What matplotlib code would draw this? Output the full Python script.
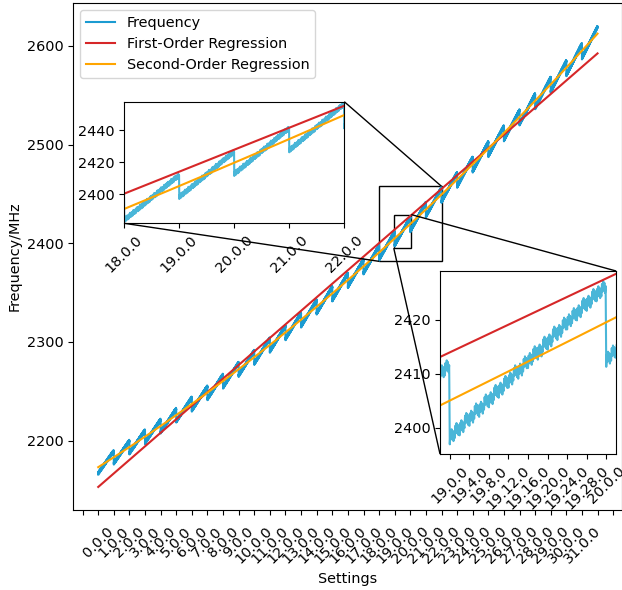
import numpy as np
import matplotlib
matplotlib.use("Agg")
from matplotlib import pyplot as plt
from matplotlib.ticker import FixedLocator, FuncFormatter
from mpl_toolkits.axes_grid1.inset_locator import mark_inset

plt.rcParams['font.size'] = 10.4

# frequency at the start of every first-level sweep (setting a.0.0), MHz
seg_start = [2165.6, 2175.7, 2186.0, 2196.5, 2207.2, 2218.3, 2229.4, 2241.0,
             2252.7, 2264.6, 2276.8, 2289.1, 2301.8, 2314.6, 2327.8, 2341.1,
             2354.7, 2368.5, 2382.5, 2396.9, 2411.3, 2426.1, 2441.0, 2456.3,
             2471.7, 2487.4, 2503.4, 2519.5, 2535.9, 2552.5, 2569.4, 2586.4]
# rise over the second-level sweep (a.0.x -> a.31.x), MHz
seg_rise = [22.0, 22.3, 22.6, 22.9, 23.2, 23.5, 23.7, 24.0,
            24.3, 24.6, 24.9, 25.2, 25.5, 25.8, 26.1, 26.4,
            26.6, 26.9, 27.2, 27.5, 27.8, 28.1, 28.4, 28.7,
            29.0, 29.3, 29.5, 29.8, 30.1, 30.4, 30.7, 31.0]
# shape of the second-level sweep read from the 19.x.x zoom, MHz
b_rise = [0.0, 1.1, 1.6, 2.9, 3.3, 4.6, 4.9, 6.2, 6.6, 7.9, 8.3, 9.5,
          10.1, 11.4, 11.7, 13.0, 13.6, 14.8, 15.1, 16.5, 16.9, 18.3,
          18.6, 19.9, 20.5, 21.6, 22.1, 23.4, 23.8, 25.0, 25.5, 26.4]
# small offset of the third-level setting (x.x.0 .. x.x.7), MHz
tooth = [0.0, 2.3, 0.9, 2.8, 1.4, 2.5, 0.6, 1.9]

n_a, n_b, n_c = len(seg_start), len(b_rise), len(tooth)

settings = []
freq = []
for a in range(n_a):
    for b in range(n_b):
        for c in range(n_c):
            settings.append(f"{a}.{b}.{c}")
            freq.append(seg_start[a] + b_rise[b] * seg_rise[a] / b_rise[-1] + tooth[c])
freq = np.array(freq)
x = np.arange(len(freq))

fit1 = np.polyval(np.polyfit(x, freq, 1), x)
fit2 = np.polyval(np.polyfit(x, freq, 2), x)

blue = '#1b9bd1'
blue_light = '#4ab6d8'
red = '#d62728'
orange = 'orange'


def setting_label(val, pos):
    i = int(round(val))
    return settings[i] if 0 <= i < len(settings) else ''


step_a = n_b * n_c  # points per first-level setting

fig = plt.figure(figsize=(6.22, 5.9), dpi=100)
ax = fig.add_axes([0.1178, 0.1356, 0.883, 0.8593])
ax.plot(x, freq, color=blue, lw=1.5, label='Frequency')
ax.plot(x, fit1, color=red, lw=1.5, label='First-Order Regression')
ax.plot(x, fit2, color=orange, lw=1.5, label='Second-Order Regression')
ax.xaxis.set_major_locator(FixedLocator(np.arange(-1, n_a + 2) * step_a))
ax.xaxis.set_major_formatter(FuncFormatter(setting_label))
ax.tick_params(axis='x', labelrotation=45, pad=6.5)
ax.set_xlabel('Settings')
ax.set_ylabel('Frequency/MHz')
ax.legend(loc='upper left')

# zoom on 18.0.0 - 22.0.0
ins1 = fig.add_axes([0.1998, 0.6215, 0.3537, 0.2061])
ins1.plot(x, freq, color=blue_light, lw=1.5)
ins1.plot(x, fit1, color=red, lw=1.5)
ins1.plot(x, fit2, color=orange, lw=1.5)
ins1.set_xlim(18 * step_a, 22 * step_a)
ins1.set_ylim(2381.7, 2457.7)
ins1.xaxis.set_major_locator(FixedLocator(np.arange(18, 23) * step_a))
ins1.xaxis.set_major_formatter(FuncFormatter(setting_label))
ins1.tick_params(axis='x', labelrotation=45)
mark_inset(ax, ins1, loc1=1, loc2=3, fc='none', ec='black')

# zoom on 19.0.0 - 20.0.0
ins2 = fig.add_axes([0.7074, 0.2305, 0.283, 0.3102])
ins2.plot(x, freq, color=blue_light, lw=1.5)
ins2.plot(x, fit1, color=red, lw=1.5)
ins2.plot(x, fit2, color=orange, lw=1.5)
ins2.set_xlim(19 * step_a - 2 * n_c, 20 * step_a + 2 * n_c)
ins2.set_ylim(2395.1, 2429.1)
ins2.xaxis.set_major_locator(FixedLocator(19 * step_a + np.arange(0, n_b + 1, 4) * n_c))
ins2.xaxis.set_major_formatter(FuncFormatter(setting_label))
ins2.tick_params(axis='x', labelrotation=45)
mark_inset(ax, ins2, loc1=1, loc2=3, fc='none', ec='black')

fig.savefig('out.png', dpi=100)
plt.close(fig)
